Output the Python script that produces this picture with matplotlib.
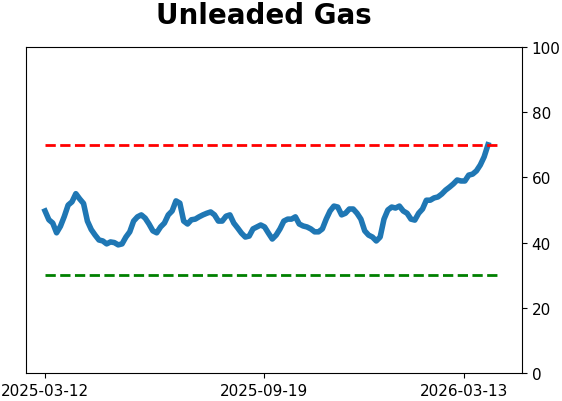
import numpy as np
import pandas as pd
import matplotlib
matplotlib.use("Agg")
import matplotlib.pyplot as plt

title = "Unleaded Gas"
start_date = "2025-03-12"
end_date = "2026-04-03"
tick_dates = ["2025-03-12", "2025-09-19", "2026-03-13"]
upper_level = 70
lower_level = 30

values = [
    49.7, 47.0, 46.0, 43.0, 45.0, 48.0, 51.5, 52.5, 55.0, 53.4,
    52.0, 46.6, 44.0, 42.3, 40.8, 40.5, 39.6, 40.2, 40.0, 39.3,
    39.6, 41.7, 43.3, 46.6, 47.9, 48.5, 47.5, 45.7, 43.6, 43.0,
    44.8, 46.0, 48.5, 49.7, 52.8, 52.1, 46.6, 45.7, 47.0, 47.2,
    47.9, 48.5, 49.0, 49.4, 48.5, 46.6, 46.6, 48.1, 48.5, 46.0,
    44.5, 42.9, 41.7, 42.0, 44.2, 44.8, 45.4, 44.8, 42.9, 41.1,
    42.3, 44.2, 46.6, 47.2, 47.2, 47.9, 45.7, 45.1, 44.8, 44.2,
    43.3, 43.3, 44.2, 47.2, 49.7, 51.2, 50.9, 48.5, 49.0, 50.3,
    50.3, 49.0, 47.2, 43.6, 42.3, 41.7, 40.5, 41.7, 47.2, 50.0,
    50.9, 50.6, 51.2, 49.7, 49.0, 47.2, 46.9, 49.0, 50.3, 53.0,
    53.0, 53.7, 54.0, 54.9, 56.1, 57.0, 58.0, 59.2, 58.9, 58.9,
    60.7, 61.0, 62.0, 63.8, 66.3, 70.0,
]

dates = pd.date_range(start_date, end_date, periods=len(values))
t0 = pd.Timestamp(start_date)

fig = plt.figure(figsize=(5.62, 4.02), dpi=100)
ax = fig.add_axes([0.0463, 0.0697, 0.8825, 0.8109])

ax.plot(dates, values, color="#1f77b4", linewidth=4)
line_end = dates[-1] + pd.Timedelta(days=10)
ax.plot([t0, line_end], [upper_level, upper_level], "r--", linewidth=2)
ax.plot([t0, line_end], [lower_level, lower_level], "g--", linewidth=2)

ax.set_ylim(0, 100)
ax.set_xlim(t0 - pd.Timedelta(days=16.6), t0 + pd.Timedelta(days=416.7))
ax.yaxis.tick_right()
ax.set_yticks([0, 20, 40, 60, 80, 100])
ax.set_xticks(pd.to_datetime(tick_dates))
ax.set_xticklabels(tick_dates)
ax.tick_params(labelsize=11)

fig.suptitle(title, fontsize=20, fontweight="bold", x=0.47, y=0.995)

fig.savefig("out.png", dpi=100)
